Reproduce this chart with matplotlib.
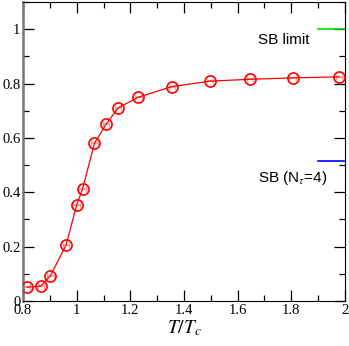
import matplotlib
matplotlib.use("Agg")
import matplotlib.pyplot as plt
from matplotlib.ticker import MultipleLocator

plt.rcParams['mathtext.fontset'] = 'stix'

t_over_tc = [0.815, 0.866, 0.902, 0.960, 1.000, 1.022, 1.066, 1.109, 1.155, 1.230, 1.355, 1.497, 1.647, 1.805, 1.978]
ratio = [0.051, 0.055, 0.093, 0.205, 0.353, 0.413, 0.580, 0.650, 0.711, 0.750, 0.789, 0.809, 0.816, 0.821, 0.825]
xerr = [0.012] * len(t_over_tc)
sb_limit = 1.0
sb_nt4 = 0.516

fig = plt.figure(figsize=(3.49, 3.46), dpi=100)
ax = fig.add_axes([0.066, 0.130, 0.9225, 0.864])

ax.errorbar(t_over_tc, ratio, xerr=xerr, fmt='none', ecolor='#ff9a9a', elinewidth=1.2, capsize=2, capthick=1.0, zorder=2)
ax.plot(t_over_tc, ratio, color='red', lw=0.9, marker='o', ms=8, mfc='none', mec='red', mew=1.2, zorder=3)

ax.plot([1.9, 2.0], [sb_limit, sb_limit], color='#00dd00', lw=1.2)
ax.plot([1.9, 2.0], [sb_nt4, sb_nt4], color='blue', lw=1.2)
ax.text(1.773, 0.96, 'SB limit', ha='center', va='center', fontsize=11, family='Liberation Sans')
ax.text(1.806, 0.452, r'SB (N$_\tau$=4)', ha='center', va='center', fontsize=11, family='Liberation Sans')

ax.set_xlim(0.8, 2.0)
ax.set_ylim(0, 1.1)
ax.xaxis.set_minor_locator(MultipleLocator(0.1))
ax.yaxis.set_minor_locator(MultipleLocator(0.1))
ax.set_xticks([0.8, 1.0, 1.2, 1.4, 1.6, 1.8, 2.0])
ax.set_xticklabels(['0.8', '1', '1.2', '1.4', '1.6', '1.8', '2'])
ax.set_yticks([0, 0.2, 0.4, 0.6, 0.8, 1.0])
ax.set_yticklabels(['0', '0.2', '0.4', '0.6', '0.8', '1'])
ax.tick_params(which='both', direction='in', top=True, right=True, labelsize=10.5, pad=2)
ax.tick_params(which='major', length=8, width=0.9)
ax.tick_params(which='minor', length=4, width=0.9)
for lab in ax.get_xticklabels() + ax.get_yticklabels():
    lab.set_family('Liberation Serif')
ax.spines['left'].set_color('#777777')
ax.spines['left'].set_linewidth(1.8)
ax.set_xlabel(r'$T/T_c$', fontsize=14, labelpad=1)
fig.savefig('out.png', dpi=100)
